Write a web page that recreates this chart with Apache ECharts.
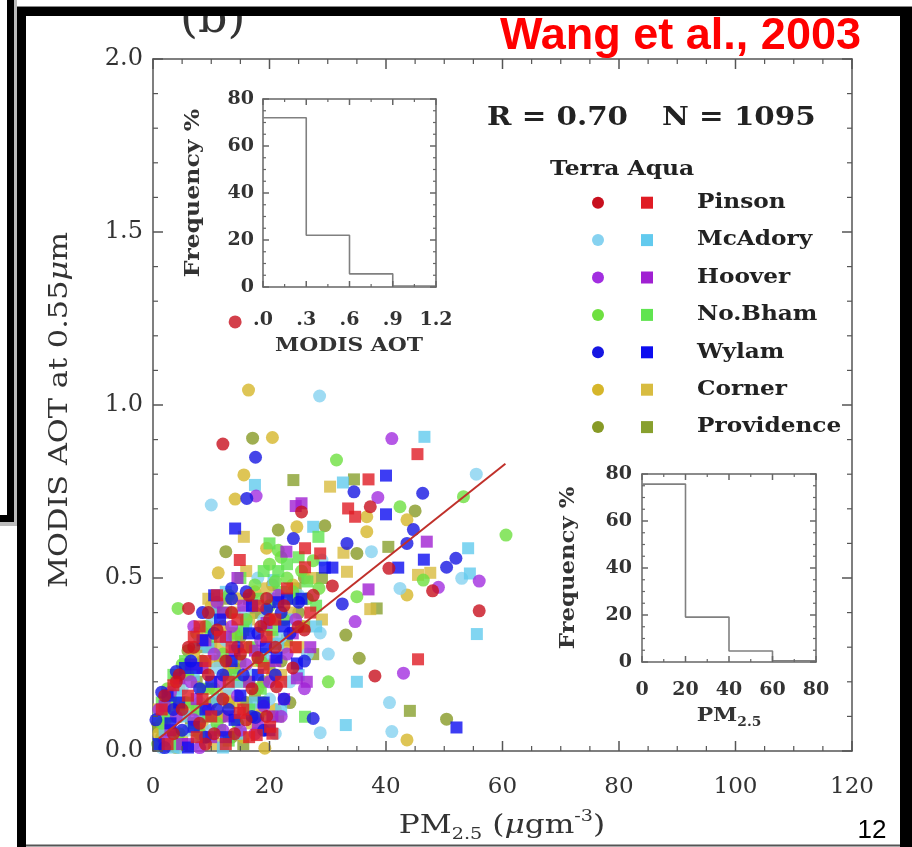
<!DOCTYPE html>
<html>
<head>
<meta charset="utf-8">
<script src="https://cdn.jsdelivr.net/npm/echarts@6/dist/echarts.min.js"></script>
<style>
html,body{margin:0;padding:0;background:#fff;}
#chart{width:912px;height:847px;}
</style>
</head>
<body>
<div id="chart"></div>
<script>
// sites and their colours (Terra = circles, Aqua = squares)
const sites = ['Pinson', 'McAdory', 'Hoover', 'No.Bham', 'Wylam', 'Corner', 'Providence'];
const terraColors = ['#c8101e', '#86d2f0', '#a22ee0', '#6ee040', '#1616e2', '#d6b62a', '#879a26'];
const aquaColors  = ['#e01c24', '#62caee', '#a020d2', '#60e450', '#0c0cf0', '#d8bc40', '#88a02e'];

// PM2.5 (ugm-3), MODIS AOT pairs
const pinsonTerra = [[12.0,0.887],[25.5,0.691],[37.3,0.706],[40.5,0.528],[30.8,0.477],[6.1,0.412],[56.0,0.405],[38.1,0.217],[48.0,0.463],[14.1,1.24],
  [3.5,0.05],[5,0.12],[7,0.30],[8,0.08],[9.5,0.22],[11,0.35],[12,0.15],[13.5,0.40],[14,0.05],[15,0.28],[16.5,0.45],[17,0.18],[18.5,0.36],[19.5,0.10],
  [21,0.30],[22.5,0.42],[24,0.24],[26,0.35],[9,0.02],[4,0.20],[27.5,0.45],[6.1,0.30],[19.5,0.441],[24.9,0.359],[21.2,0.186],
  [2,0.16],[4.5,0.22],[10.5,0.05],[12.5,0.26],[16,0.09],[18,0.27],[20,0.38],[9.5,0.40]];
const pinsonAqua = [[45.4,0.858],[37.0,0.785],[33.5,0.701],[34.7,0.677],[26.1,0.586],[28.7,0.571],[14.9,0.552],[26.1,0.531],[45.5,0.265],
  [2.5,0.02],[6,0.16],[7.5,0.04],[9,0.26],[10,0.10],[11.5,0.33],[12.5,0.02],[13,0.20],[14.5,0.38],[15.5,0.12],[16,0.30],[17.8,0.046],[18,0.42],
  [19,0.24],[20.5,0.05],[21,0.38],[23,0.47],[24.5,0.30],[27,0.40],[11,0.45],[8,0.36],[14.9,0.11],[20.1,0.07],
  [1.5,0.12],[3.5,0.19],[7,0.33],[8.5,0.15],[13.5,0.30],[16.5,0.04],[19.5,0.33],[22,0.20]];
const mcadoryTerra = [[28.6,1.026],[10.0,0.711],[55.5,0.80],[53.0,0.499],[37.5,0.576],[42.4,0.470],[30.1,0.280],[40.6,0.140],[28.7,0.053],[41.0,0.056],[29,0.552],[28.7,0.341],
  [1.5,0.01],[3,0.04],[4.5,0.01],[6,0.06],[7,0.02],[8,0.14],[10,0.06],[11,0.24],[12.5,0.32],[14,0.10],[15.5,0.40],[17,0.22],[18,0.50],[20,0.15],
  [22,0.33],[23.5,0.20],[25,0.45],[26.5,0.28],[5,0.18],
  [2.5,0.15],[6.5,0.26],[10,0.37],[13,0.18],[16.5,0.12],[19,0.38],[21,0.05],[3.5,0.10]];
const mcadoryAqua = [[46.6,0.908],[32.6,0.776],[17.5,0.769],[27.5,0.648],[54.1,0.586],[54.4,0.513],[55.6,0.338],[35.0,0.200],[33.1,0.075],[20.7,0.494],
  [2,0.06],[3.5,0.01],[5.5,0.10],[7,0.22],[8.5,0.04],[9.5,0.30],[11,0.15],[12,0.01],[13.5,0.27],[15,0.05],[16,0.36],[17.5,0.14],[19,0.28],[20.5,0.44],
  [22,0.12],[23,0.38],[25,0.22],[10,0.40],[28,0.36],
  [1,0.10],[4,0.16],[8,0.31],[12.5,0.46],[14.5,0.20],[18.5,0.06],[21.5,0.31],[8,0.10]];
const hooverTerra = [[41.0,0.903],[38.6,0.733],[17.7,0.737],[56.0,0.491],[49.0,0.473],[34.7,0.374],[43.0,0.225],
  [2,0.03],[4,0.10],[6.5,0.2],[8,0.01],[9.5,0.12],[10.5,0.28],[12,0.06],[13.5,0.36],[14.5,0.16],[16,0.25],[17.5,0.05],[18.5,0.32],[20,0.20],
  [21.5,0.45],[23,0.28],[24.5,0.38],[26,0.18],[22,0.10],
  [1,0.12],[3,0.17],[7,0.36],[7,0.09],[11,0.43],[15,0.06],[19,0.13],[17,0.42]];
const hooverAqua = [[24.5,0.708],[25.5,0.716],[22.9,0.576],[47.0,0.605],[37.0,0.467],
  [3,0.06],[5,0.02],[6,0.02],[7.5,0.15],[9,0.32],[10,0.04],[11.5,0.20],[13,0.10],[14,0.29],[15.5,0.42],[16.5,0.20],[18,0.08],[19.5,0.37],[21,0.26],
  [22.5,0.15],[24,0.34],[24.7,0.21],[26.4,0.20],[27,0.30],[12,0.40],
  [2,0.13],[4.5,0.21],[8.5,0.24],[12.5,0.33],[17.5,0.29],[20.5,0.10],[14.5,0.50],[6.5,0.25]];
const nobhamTerra = [[31.5,0.841],[42.4,0.706],[53.3,0.735],[46.4,0.494],[4.3,0.412],[30.1,0.200],[35.0,0.446],[60.6,0.624],
  [1.5,0.08],[3,0.15],[4.5,0.05],[6,0.22],[7.5,0.12],[9,0.36],[10.5,0.18],[12,0.28],[13,0.45],[14.5,0.08],[16,0.38],[17.5,0.48],[18.5,0.26],[20,0.54],
  [21,0.49],[22,0.56],[23,0.50],[24,0.46],[25.5,0.52],[26.5,0.44],[27.5,0.55],[19,0.14],[22.5,0.38],[28.5,0.47],[21.5,0.58],
  [0.8,0.02],[2.5,0.18],[5,0.25],[8,0.05],[11,0.08],[14,0.33],[16.5,0.20],[20,0.42]];
const nobhamAqua = [[28.4,0.619],[26.1,0.099],
  [2.5,0.10],[4,0.02],[5.5,0.26],[7,0.08],[8.5,0.18],[10,0.33],[11.5,0.06],[12.5,0.40],[14,0.22],[15,0.50],[16.5,0.12],[18,0.44],[19,0.52],[20.5,0.35],
  [21.5,0.52],[23,0.54],[24,0.44],[25,0.56],[26.5,0.49],[28,0.42],[17,0.30],[22,0.46],
  [1.5,0.14],[3.5,0.22],[6,0.14],[9.5,0.10],[13,0.03],[15.5,0.35],[18.5,0.18],[20,0.60]];
const wylamTerra = [[17.6,0.849],[34.5,0.749],[46.3,0.745],[16.1,0.730],[24.1,0.614],[44.7,0.640],[33.3,0.600],[43.6,0.600],[50.4,0.531],[52.0,0.557],[13.5,0.470],[32.5,0.425],[27.5,0.094],
  [0.5,0.09],[2,0.01],[3.5,0.12],[5,0.06],[6.5,0.26],[8,0.18],[9,0.04],[10.5,0.34],[12,0.22],[13,0.12],[14.5,0.30],[16,0.46],[17,0.10],[18,0.34],
  [19.5,0.41],[21,0.22],[22,0.40],[23.5,0.34],[25,0.43],[26,0.26],[17.6,0.097],
  [1.5,0.17],[4,0.23],[8.5,0.40],[11,0.12],[13.5,0.44],[15.5,0.22],[19,0.06],[22.5,0.15]];
const wylamAqua = [[40.0,0.796],[40.0,0.684],[14.1,0.643],[46.5,0.553],[42.1,0.530],[30.8,0.530],[29.5,0.530],[52.1,0.068],
  [1,0.02],[3,0.08],[4.5,0.14],[6,0.01],[7.5,0.24],[9,0.12],[10,0.20],[11.5,0.38],[12.5,0.04],[13.5,0.26],[15,0.16],[16.5,0.34],[18,0.22],[19.4,0.30],
  [21.2,0.27],[21.5,0.43],[23,0.44],[24.7,0.253],[25.5,0.44],[20,0.06],[8.5,0.32],
  [2.5,0.16],[5.5,0.24],[7,0.07],[10.5,0.45],[14,0.09],[17,0.42],[19,0.14],[22.5,0.36]];
const cornerTerra = [[16.4,1.043],[20.5,0.906],[15.6,0.798],[14.1,0.728],[24.7,0.648],[36.7,0.677],[36.7,0.634],[43.6,0.668],[19.5,0.586],[11.2,0.515],[43.6,0.451],[43.6,0.032],[19.2,0.008],
  [1,0.05],[2.5,0.12],[4,0.01],[5.5,0.14],[7,0.28],[8,0.06],[9.5,0.18],[11,0.10],[12,0.36],[13,0.24],[14.5,0.44],[15.5,0.04],[16.5,0.30],[18,0.18],
  [19.5,0.40],[21,0.12],[22.5,0.30],[24,0.48],[25.5,0.36],[10,0.42],
  [1.5,0.10],[3.5,0.14],[6,0.23],[9,0.32],[10.5,0.26],[14,0.14],[17.5,0.46],[20.5,0.22]];
const cornerAqua = [[30.4,0.764],[15.6,0.619],[33.3,0.518],[45.5,0.509],[47.6,0.515],[32.7,0.573],[37.3,0.410],
  [2,0.08],[3.5,0.18],[5,0.04],[6.5,0.12],[8,0.34],[9,0.24],[10.5,0.02],[11.5,0.30],[12.5,0.16],[14,0.40],[15,0.20],[16,0.52],[17,0.08],[18,0.26],
  [19.5,0.47],[20.5,0.33],[22,0.22],[23.5,0.40],[25,0.30],[27,0.50],[29,0.38],
  [1,0.12],[4.5,0.19],[9.5,0.44],[8.5,0.08],[13,0.34],[16.5,0.38],[18.5,0.12],[21,0.44]];
const provTerra = [[17.1,0.904],[21.5,0.639],[29.5,0.651],[12.5,0.576],[35.0,0.571],[45.0,0.694],[33.1,0.335],[35.4,0.268],[50.4,0.092],
  [1.5,0.04],[3,0.16],[4.5,0.10],[6,0.29],[7,0.06],[8.5,0.26],[10,0.14],[11,0.42],[12.5,0.22],[13.5,0.04],[15,0.33],[16,0.14],[17.5,0.40],[19,0.20],
  [20.5,0.48],[22,0.26],[23.5,0.14],[25,0.40],[26,0.50],[7.5,0.34],
  [0.8,0.08],[2.5,0.12],[4,0.21],[9.5,0.36],[12,0.10],[14,0.24],[18,0.10],[21,0.38]];
const provAqua = [[24.1,0.783],[34.5,0.785],[40.4,0.590],[38.4,0.412],[44.1,0.116],
  [2,0.14],[3.5,0.04],[5,0.22],[6.5,0.08],[8,0.30],[9,0.10],[10.5,0.40],[11.5,0.26],[13,0.14],[14,0.34],[15.5,0.02],[16.5,0.44],[17.5,0.16],[19,0.36],
  [20,0.25],[21.5,0.10],[23,0.32],[24.5,0.47],[26,0.36],[27.5,0.28],[29,0.50],
  [1,0.07],[3,0.13],[4.5,0.12],[7.5,0.20],[10,0.30],[12.5,0.44],[15,0.26],[18.5,0.28]];

const terraData = [pinsonTerra, mcadoryTerra, hooverTerra, nobhamTerra, wylamTerra, cornerTerra, provTerra];
const aquaData  = [pinsonAqua, mcadoryAqua, hooverAqua, nobhamAqua, wylamAqua, cornerAqua, provAqua];
const drawOrder = [6, 5, 1, 3, 2, 4, 0];

// regression line
const fitX = [1, 60.5];
const fitY = [0.036, 0.83];

// histograms (frequency %)
const aotBins = [0, 0.3, 0.6, 0.9, 1.2];
const aotFreq = [72, 22, 5.6, 0.4];
const pmBins = [0, 20, 40, 60, 80];
const pmFreq = [75.7, 19.1, 4.7, 0.5];

// axis ranges: [min, max, interval, minor splits]
const mainX = [0, 120, 20, 4], mainY = [0, 2, 0.5, 5];
const aotX = [0, 1.2, 0.3, 2], aotY = [0, 80, 20, 4];
const pmX = [0, 80, 20, 2], pmY = [0, 80, 20, 4];

const serif = 'DejaVu Serif';
const txt = '#333';

function frameAxis(gridIndex, position, r, color, label) {
  return {
    type: 'value', gridIndex: gridIndex, position: position,
    min: r[0], max: r[1], interval: r[2],
    axisLine: {show: true, onZero: false, lineStyle: {color: color, width: 1.5}},
    axisTick: {show: false},
    minorTick: {show: false},
    splitLine: {show: false},
    minorSplitLine: {show: false},
    axisLabel: label ? label : {show: false}
  };
}

function tickValues(r) {
  const out = [];
  for (let k = 0; r[0] + k * r[2] <= r[1] + 1e-9; k++) {
    const v = r[0] + k * r[2];
    out.push([v, 1]);
    if (v + r[2] <= r[1] + 1e-9) {
      for (let m = 1; m < r[3]; m++) out.push([v + m * r[2] / r[3], 0]);
    }
  }
  return out;
}

const insetLab = {fontFamily: serif, fontSize: 19, fontWeight: 'bold', color: txt};

function stepData(bins, freq) {
  return bins.map((b, k) => [b, freq[Math.min(k, freq.length - 1)]]);
}

const series = [];
drawOrder.forEach(i => {
  series.push({
    type: 'scatter', name: sites[i] + ' Terra', xAxisIndex: 0, yAxisIndex: 0,
    data: terraData[i], symbol: 'circle', symbolSize: 13,
    itemStyle: {color: terraColors[i]}, z: 2
  });
  series.push({
    type: 'scatter', name: sites[i] + ' Aqua', xAxisIndex: 0, yAxisIndex: 0,
    data: aquaData[i], symbol: 'rect', symbolSize: 12,
    itemStyle: {color: aquaColors[i]}, z: 2
  });
});
series.push({
  type: 'line', name: 'fit', xAxisIndex: 0, yAxisIndex: 0,
  data: fitX.map((x, k) => [x, fitY[k]]), symbol: 'none',
  lineStyle: {color: '#c0302a', width: 2}, z: 5
});
series.push({
  type: 'line', name: 'aot hist', xAxisIndex: 1, yAxisIndex: 1, step: 'end',
  data: stepData(aotBins, aotFreq), symbol: 'none',
  lineStyle: {color: '#808080', width: 1.6}, z: 5
});
series.push({
  type: 'line', name: 'pm hist', xAxisIndex: 2, yAxisIndex: 2, step: 'end',
  data: stepData(pmBins, pmFreq), symbol: 'none',
  lineStyle: {color: '#808080', width: 1.6}, z: 5
});

function label(x, y, text, font, fill, align, sx, rot, rich) {
  const st = {text: text, font: font, fill: fill,
    align: align || 'left', verticalAlign: 'middle', textAlign: align || 'left', textVerticalAlign: 'middle'};
  if (rich) st.rich = rich;
  return {type: 'text', x: x, y: y, z: 20, scaleX: sx || 1, rotation: rot || 0, style: st};
}

// legend drawn as graphic
const legendEls = [];
const legTop = 202.7, legStep = 37.4;
sites.forEach((s, i) => {
  const y = legTop + legStep * i;
  legendEls.push({type: 'circle', shape: {cx: 598, cy: y, r: 6}, style: {fill: terraColors[i]}, z: 20});
  legendEls.push({type: 'rect', shape: {x: 641, y: y - 6, width: 12, height: 12}, style: {fill: aquaColors[i]}, z: 20});
  legendEls.push(label(697, y, s, 'bold 20px "DejaVu Serif"', '#222', 'left', 1.16));
});

const f = (w, s) => w + ' ' + s + 'px "DejaVu Serif"';
const richMain = {
  n: {font: f('normal', 26), fill: txt, lineHeight: 34},
  i: {font: 'italic 26px "DejaVu Serif"', fill: txt, lineHeight: 34},
  sub: {font: f('normal', 16), fill: txt, verticalAlign: 'bottom', lineHeight: 22},
  sup: {font: f('normal', 16), fill: txt, verticalAlign: 'top', lineHeight: 22}
};
const richInset = {
  n: {font: f('bold', 19), fill: txt, lineHeight: 26},
  sub: {font: f('bold', 12), fill: txt, verticalAlign: 'bottom', lineHeight: 16}
};

const baseGraphics = [
  // axis titles
  label(60, 410, '{n|MODIS AOT at 0.55}{i|μ}{n|m}', f('normal', 26), txt, 'center', 1.17, Math.PI / 2, richMain),
  label(502, 826, '{n|PM}{sub|2.5}{n| (}{i|μ}{n|gm}{sup|-3}{n|)}', f('normal', 26), txt, 'center', 1.2, 0, richMain),
  label(194, 193, 'Frequency %', f('bold', 20), txt, 'center', 1.18, Math.PI / 2),
  label(349, 346, 'MODIS AOT', f('bold', 19), txt, 'center', 1.15),
  label(569, 568, 'Frequency %', f('bold', 20), txt, 'center', 1.14, Math.PI / 2),
  label(729, 716, '{n|PM}{sub|2.5}', f('bold', 19), txt, 'center', 1.15, 0, richInset),
  // annotations
  label(487, 118, 'R = 0.70', f('bold', 26), '#222', 'left', 1.13),
  label(662, 118, 'N = 1095', f('bold', 26), '#222', 'left', 1.13),
  label(550, 170, 'Terra Aqua', f('bold', 20), '#222', 'left', 1.17),
  Object.assign(label(180, 20, '(b)', '46px "DejaVu Serif"', '#333'), {z: 50}),
  Object.assign(label(500, 37, 'Wang et al., 2003', 'bold 45px "Liberation Sans"', '#ff0000'), {z: 60}),
  Object.assign(label(872, 831, '12', '26px "Liberation Sans"', '#000', 'center'), {z: 60}),
  // slide frame
  {type: 'rect', shape: {x: 0, y: 0, width: 912, height: 6}, style: {fill: '#fff'}, z: 100},
  {type: 'rect', shape: {x: 17, y: 6, width: 895, height: 1.5}, style: {fill: '#888'}, z: 100},
  {type: 'rect', shape: {x: 17, y: 7, width: 895, height: 9}, style: {fill: '#000'}, z: 100},
  {type: 'rect', shape: {x: 17, y: 7, width: 9, height: 840}, style: {fill: '#000'}, z: 100},
  {type: 'rect', shape: {x: 900, y: 7, width: 12, height: 840}, style: {fill: '#000'}, z: 100},
  {type: 'rect', shape: {x: 14, y: 0, width: 3, height: 526}, style: {fill: '#bbb'}, z: 100},
  {type: 'rect', shape: {x: 0, y: 522, width: 17, height: 4}, style: {fill: '#bbb'}, z: 100},
  {type: 'rect', shape: {x: 7, y: 0, width: 7, height: 522}, style: {fill: '#000'}, z: 101},
  {type: 'rect', shape: {x: 0, y: 515, width: 14, height: 7}, style: {fill: '#000'}, z: 101},
  {type: 'rect', shape: {x: 26, y: 844.5, width: 874, height: 2}, style: {fill: '#555'}, z: 100}
].concat(legendEls);

const option = {
  animation: false,
  backgroundColor: '#fff',
  grid: [
    {left: 153, top: 59, width: 699, height: 692},
    {left: 263, top: 99, width: 173, height: 188},
    {left: 642, top: 474, width: 174, height: 188}
  ],
  xAxis: [
    frameAxis(0, 'bottom', mainX, '#555', {margin: 25, fontFamily: serif, fontSize: 23, color: txt}),
    frameAxis(1, 'bottom', aotX, '#666', Object.assign({margin: 24,
      formatter: v => { const s = v.toFixed(1); return s.charAt(0) === '0' ? s.slice(1) : s; }}, insetLab)),
    frameAxis(2, 'bottom', pmX, '#666', Object.assign({margin: 19}, insetLab)),
    frameAxis(0, 'top', mainX, '#555', null),
    frameAxis(1, 'top', aotX, '#666', null),
    frameAxis(2, 'top', pmX, '#666', null)
  ],
  yAxis: [
    frameAxis(0, 'left', mainY, '#555', {margin: 10, fontFamily: serif, fontSize: 24, color: txt,
      formatter: v => v.toFixed(1)}),
    frameAxis(1, 'left', aotY, '#666', Object.assign({margin: 9}, insetLab)),
    frameAxis(2, 'left', pmY, '#666', Object.assign({margin: 10}, insetLab)),
    frameAxis(0, 'right', mainY, '#555', null),
    frameAxis(1, 'right', aotY, '#666', null),
    frameAxis(2, 'right', pmY, '#666', null)
  ],
  series: series
};

const chart = echarts.init(document.getElementById('chart'));
chart.setOption(option);

// inward ticks on all four sides, positioned through each grid's scales
function tickRects(gridIndex, rx, ry, len, color) {
  const els = [];
  const px = v => chart.convertToPixel({gridIndex: gridIndex}, v);
  const rect = (id, x, y, w, h) => ({id: id, type: 'rect', silent: true, z: 30,
    shape: {x: x, y: y, width: w, height: h}, style: {fill: color}});
  tickValues(rx).forEach((t, k) => {
    const l = t[1] ? len : len / 2, w = t[1] ? 1.5 : 1.2;
    const a = px([t[0], ry[0]]), b = px([t[0], ry[1]]);
    els.push(rect('t' + gridIndex + 'xb' + k, a[0] - w / 2, a[1] - l, w, l));
    els.push(rect('t' + gridIndex + 'xt' + k, b[0] - w / 2, b[1], w, l));
  });
  tickValues(ry).forEach((t, k) => {
    const l = t[1] ? len : len / 2, w = t[1] ? 1.5 : 1.2;
    const a = px([rx[0], t[0]]), b = px([rx[1], t[0]]);
    els.push(rect('t' + gridIndex + 'yl' + k, a[0], a[1] - w / 2, l, w));
    els.push(rect('t' + gridIndex + 'yr' + k, b[0] - l, b[1] - w / 2, l, w));
  });
  return els;
}

const ticks = tickRects(0, mainX, mainY, 10, '#555')
  .concat(tickRects(1, aotX, aotY, 6, '#666'))
  .concat(tickRects(2, pmX, pmY, 6, '#666'));

chart.setOption({graphic: {elements: baseGraphics.concat(ticks)}});
</script>
</body>
</html>
